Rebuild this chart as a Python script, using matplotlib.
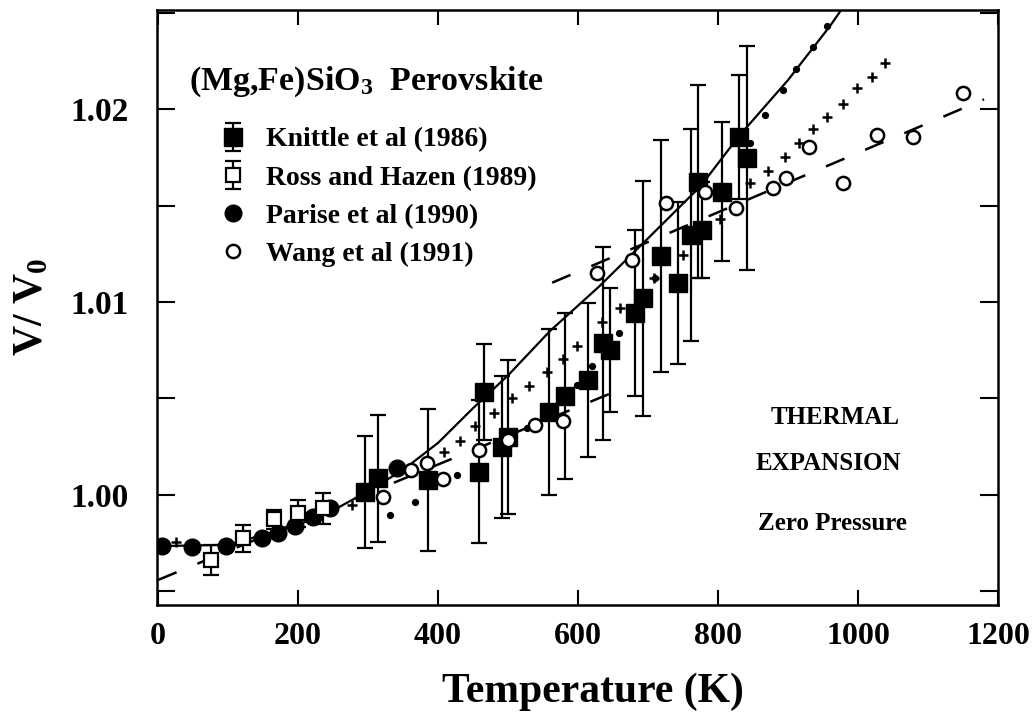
import matplotlib
matplotlib.use("Agg")
import matplotlib.pyplot as plt
from matplotlib.ticker import FixedLocator

plt.rcParams['font.family'] = ['Liberation Serif', 'DejaVu Serif']
plt.rcParams['font.weight'] = 'bold'
plt.rcParams['mathtext.fontset'] = 'custom'
plt.rcParams['mathtext.rm'] = 'Liberation Serif:bold'
plt.rcParams['mathtext.bf'] = 'Liberation Serif:bold'
plt.rcParams['mathtext.it'] = 'Liberation Serif:bold'
plt.rcParams['mathtext.default'] = 'bf'

# ---- data ----
knittle_T = [296, 314, 386, 466, 459, 491, 500, 559, 581, 614, 636, 646, 681, 693,
             719, 743, 762, 777, 772, 805, 830, 841]
knittle_V = [1.00017, 1.00087, 1.00078, 1.00534, 1.00121, 1.00249, 1.00301, 1.00432,
             1.00515, 1.00596, 1.00786, 1.00751, 1.00941, 1.01019, 1.01238, 1.01097,
             1.01347, 1.01373, 1.01623, 1.01572, 1.01856, 1.01745]
knittle_err = [0.0029, 0.0033, 0.0037, 0.0025, 0.0037, 0.0037, 0.0040, 0.0043,
               0.0043, 0.0040, 0.0050, 0.0032, 0.0043, 0.0061, 0.0060, 0.0042,
               0.0055, 0.0025, 0.0050, 0.0036, 0.0032, 0.0058]

ross_T = [76, 122, 165, 200, 236]
ross_V = [0.99663, 0.99776, 0.99874, 0.99905, 0.99931]
ross_err = [0.0008, 0.0007, 0.0005, 0.0007, 0.0008]

parise_T = [5, 48, 97, 148, 172, 196, 222, 246, 341]
parise_V = [0.99736, 0.99732, 0.99736, 0.99776, 0.99802, 0.99839, 0.99888, 0.99931, 1.00138]

wang_T = [322, 362, 384, 407, 459, 500, 539, 579, 627, 677, 726, 781, 826, 878,
          897, 930, 978, 1027, 1079, 1150]
wang_V = [0.99991, 1.0013, 1.00167, 1.00081, 1.00233, 1.00285, 1.00363, 1.00385,
          1.01152, 1.01218, 1.01513, 1.01572, 1.01485, 1.01589, 1.01644, 1.01805,
          1.01618, 1.01865, 1.01853, 1.02081]

cross_T = [26, 277, 408, 431, 453, 480, 505, 530, 555, 579, 598, 634, 660, 709, 750,
           803, 846, 872, 896, 915, 936, 955, 979, 998, 1020, 1039]
cross_V = [0.99758, 0.99948, 1.00224, 1.00281, 1.00358, 1.00423, 1.00501, 1.00565,
           1.00639, 1.00703, 1.00772, 1.00898, 1.00967, 1.01123, 1.01244, 1.01428,
           1.01615, 1.0168, 1.01751, 1.01822, 1.01895, 1.01957, 1.02026, 1.02107,
           1.02167, 1.0224]

dot_T = [331, 367, 427, 486, 527, 598, 620, 658, 710, 846, 867, 893, 912, 936, 955]
dot_V = [0.99896, 0.99965, 1.00104, 1.00233, 1.00346, 1.0057, 1.00668, 1.00838,
         1.01126, 1.01822, 1.01969, 1.02098, 1.02206, 1.0232, 1.0243]

solid_T = [0, 100, 200, 250, 300, 350, 400, 450, 500, 560, 630, 700, 775, 830, 900, 960, 985]
solid_V = [0.99735, 0.99742, 0.99845, 0.9992, 1.0002, 1.0013, 1.0027, 1.0045, 1.0062,
           1.0085, 1.0108, 1.0133, 1.0160, 1.0186, 1.0215, 1.0243, 1.0256]

dash_low_T = [0, 665]
dash_low_V = [0.9956, 1.00554]
dash_high_T = [563, 1180]
dash_high_V = [1.0110, 1.0205]

xticks = [0, 200, 400, 600, 800, 1000, 1200]
yticks = [1.00, 1.01, 1.02]
yticks_minor = [0.995, 1.005, 1.015, 1.025]

# ---- figure ----
fig = plt.figure(figsize=(10.36, 7.15), dpi=100)
L, R, B, T = 156.7, 998, 605, 10
ax = fig.add_axes([L / 1036, (715 - B) / 715, (R - L) / 1036, (B - T) / 715])
ax.set_xlim(-2, 1200)
ax.set_ylim(0.99430, 1.02513)

ax.plot(solid_T, solid_V, '-', color='black', lw=1.6, zorder=2)
ax.plot(dash_low_T, dash_low_V, color='black', lw=1.8, ls=(0, (8, 9)), zorder=2)
ax.plot(dash_high_T, dash_high_V, color='black', lw=1.8, ls=(0, (8, 9)), zorder=2)

ax.plot(cross_T, cross_V, ls='none', marker='+', ms=7, mew=1.8, color='black', zorder=3)
ax.plot(dot_T, dot_V, ls='none', marker='o', ms=4.2, color='black', zorder=3)

hk = ax.errorbar(knittle_T, knittle_V, yerr=knittle_err, fmt='s', ms=12.5, color='black',
                 mfc='black', mec='black', ecolor='black', elinewidth=1.6, capsize=6,
                 capthick=1.6, zorder=4)
hr = ax.errorbar(ross_T, ross_V, yerr=ross_err, fmt='s', ms=10.5, mfc='white', mec='black',
                 mew=1.6, ecolor='black', elinewidth=1.6, capsize=6, capthick=1.6, zorder=4)
hp, = ax.plot(parise_T, parise_V, ls='none', marker='o', ms=12, color='black', zorder=4)
hw, = ax.plot(wang_T, wang_V, ls='none', marker='o', ms=9.5, mfc='white', mec='black',
              mew=1.8, zorder=5)

# axes styling
for s in ax.spines.values():
    s.set_linewidth(1.8)
ax.xaxis.set_major_locator(FixedLocator(xticks))
ax.yaxis.set_major_locator(FixedLocator(yticks))
ax.yaxis.set_minor_locator(FixedLocator(yticks_minor))
ax.set_xticklabels([str(t) for t in xticks])
ax.set_yticklabels(['%.2f' % t for t in yticks])
ax.tick_params(axis='x', which='both', direction='in', top=True, length=11, width=1.5,
               labelsize=23, pad=12)
ax.tick_params(axis='y', which='both', direction='in', right=True, length=13, width=1.5,
               labelsize=24, pad=20)

ax.set_xlabel('Temperature (K)', fontsize=30, fontweight='bold', labelpad=16)
ax.xaxis.label.set_x((593 - L) / (R - L))
ax.set_ylabel('V/ V$_0$', fontsize=30, fontweight='bold', labelpad=14)

def axf(px, py):
    return ((px - L) / (R - L), (B - py) / (B - T))

ax.text(*axf(189, 90), '(Mg,Fe)SiO$_3$  Perovskite', transform=ax.transAxes,
        fontsize=24.5, fontweight='bold', ha='left', va='baseline')
ax.text(*axf(835, 418), 'THERMAL', transform=ax.transAxes, fontsize=18,
        fontweight='bold', ha='center', va='center')
ax.text(*axf(828, 464), 'EXPANSION', transform=ax.transAxes, fontsize=18,
        fontweight='bold', ha='center', va='center')
ax.text(*axf(832, 523), 'Zero Pressure', transform=ax.transAxes, fontsize=18,
        fontweight='bold', ha='center', va='center')

leg = ax.legend([hk, hr, hp, hw],
                ['Knittle et al (1986)', 'Ross and Hazen (1989)', 'Parise et al (1990)',
                 'Wang et al (1991)'],
                loc='upper left', bbox_to_anchor=axf(219, 127), frameon=False,
                prop={'family': 'Liberation Serif', 'weight': 'bold', 'size': 20},
                handlelength=1.0, handletextpad=0.68, labelspacing=0.46,
                borderaxespad=0, borderpad=0)

fig.savefig('out.png', dpi=100)
